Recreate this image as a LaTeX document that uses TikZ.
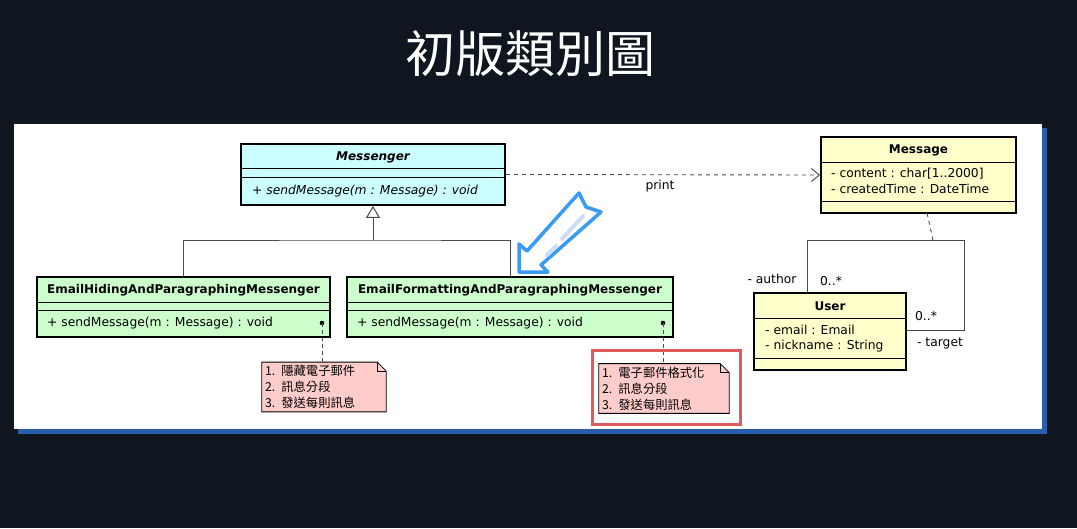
\documentclass[tikz,border=0pt]{standalone}
\usepackage{fontspec}
\setmainfont{DejaVu Sans}
\newfontfamily\cjk{Noto Sans CJK TC}
\usetikzlibrary{arrows.meta}
\definecolor{bgdark}{HTML}{0F1620}
\definecolor{shadowblue}{HTML}{2B5DAD}
\definecolor{cyanfill}{HTML}{CCFFFF}
\definecolor{greenfill}{HTML}{CCFFCC}
\definecolor{yellowfill}{HTML}{FFFFCC}
\definecolor{pinkfill}{HTML}{FFCCCC}
\definecolor{framered}{HTML}{DF5A5C}
\definecolor{arrowblue}{HTML}{3A9BF4}
\definecolor{arrowlight}{HTML}{CCDDF8}
\definecolor{linegray}{HTML}{4A4A4A}
\pgfdeclarelayer{panel}
\pgfdeclarelayer{notebg}
\pgfsetlayers{panel,notebg,main}
\begin{document}
\begin{tikzpicture}[x=1pt,y=-1pt,
  classbox/.style={draw=black, line width=1.8pt, inner sep=0pt},
  sepline/.style={draw=black, line width=0.8pt},
  cname/.style={inner sep=0pt, font=\fontsize{12}{14}\selectfont\bfseries},
  member/.style={inner sep=0pt, anchor=west, font=\fontsize{12.3}{14}\selectfont},
  lbl/.style={inner sep=0pt, font=\fontsize{12.3}{14}\selectfont},
  assoc/.style={draw=linegray, line width=1pt},
  deplink/.style={draw=linegray, line width=0.9pt, dash pattern=on 4pt off 4pt},
  notelink/.style={draw=linegray, line width=0.9pt, dash pattern=on 4pt off 3pt},
  notetext/.style={inner sep=3pt, text width=118pt, align=left, font=\cjk\fontsize{12.3}{16}\selectfont},
  noteshape/.style={draw=black, line width=0.8pt, fill=pinkfill},
]
\useasboundingbox (0,0) rectangle (1077,528);
\begin{pgfonlayer}{panel}
\fill[bgdark] (0,0) rectangle (1077,528);
\fill[shadowblue] (18,128) rectangle (1047,434);
\fill[white] (14,124) rectangle (1042,429);
\end{pgfonlayer}

\node[text=white, font=\cjk\fontsize{50}{52}\selectfont] (title) at (530,54) {初版類別圖};

% Messenger
\node[classbox, fill=cyanfill, minimum width=264pt, minimum height=61pt] (msgr) at (373,174.5) {};
\draw[sepline] (241,168) -- (505,168);
\draw[sepline] (241,177) -- (505,177);
\node[cname, font=\fontsize{12}{14}\selectfont\bfseries\itshape] (msgrname) at (373,157) {Messenger};
\node[member, font=\fontsize{12.3}{14}\selectfont\itshape] (msgrop) at (252,191) {+ sendMessage(m : Message) : void};

% EmailHiding
\node[classbox, fill=greenfill, minimum width=293pt, minimum height=60pt] (ehm) at (183.5,307) {};
\draw[sepline] (37,302) -- (330,302);
\draw[sepline] (37,310) -- (330,310);
\node[cname] (ehmname) at (183.5,290) {EmailHidingAndParagraphingMessenger};
\node[member] (ehmop) at (47,323) {+ sendMessage(m : Message) : void};

% EmailFormatting
\node[classbox, fill=greenfill, minimum width=326pt, minimum height=60pt] (efm) at (510,307) {};
\draw[sepline] (347,302) -- (673,302);
\draw[sepline] (347,310) -- (673,310);
\node[cname] (efmname) at (510,290) {EmailFormattingAndParagraphingMessenger};
\node[member] (efmop) at (357,323) {+ sendMessage(m : Message) : void};

% Message
\node[classbox, fill=yellowfill, minimum width=195pt, minimum height=76pt] (msg) at (918.5,175) {};
\draw[sepline] (821,162) -- (1016,162);
\draw[sepline] (821,201) -- (1016,201);
\node[cname] (msgname) at (918.5,150) {Message};
\node[member] (msga1) at (831,174) {- content : char[1..2000]};
\node[member] (msga2) at (831,189) {- createdTime : DateTime};

% User
\node[classbox, fill=yellowfill, minimum width=152pt, minimum height=77pt] (user) at (830,331.5) {};
\draw[sepline] (754,318) -- (906,318);
\draw[sepline] (754,358) -- (906,358);
\node[cname] (username) at (830,306) {User};
\node[member] (usera1) at (765,330) {- email : Email};
\node[member] (usera2) at (765,346) {- nickname : String};

% Generalization
\coordinate (genjoin) at (373,240);
\draw[assoc] (ehm.north) |- (genjoin) -| (efm.north);
\draw[assoc, -{Triangle[open, width=14pt, length=12pt]}] (genjoin) -- (msgr.south);

% Dependency print
\draw[deplink, -{Straight Barb[length=8pt, width=13pt]}] (msgr.east) -- (msg.west);
\node[lbl] (printlbl) at (660,186) {print};

% Association loop
\coordinate (lp1) at (807,240);
\coordinate (lp2) at (964,240);
\coordinate (lp3) at (964,330);
\draw[assoc] (user.north -| lp1) -- (lp1) -- (lp2) -- (lp3) -- (lp3 -| user.east);
\coordinate (acm) at (927,213);
\coordinate (acl) at (933,240);
\draw[deplink] (acm) -- (acl);
\node[lbl] (authorlbl) at (772,279) {- author};
\node[lbl] (mult1) at (831,281) {0..*};
\node[lbl] (mult2) at (926,316) {0..*};
\node[lbl] (targetlbl) at (940,343) {- target};

% Notes
\node[notetext] (n1) at (324,387) {1. 隱藏電子郵件\\2. 訊息分段\\3. 發送每則訊息};
\node[notetext, text width=124pt] (n2) at (664,388.5) {1. 電子郵件格式化\\2. 訊息分段\\3. 發送每則訊息};
\begin{pgfonlayer}{notebg}
\foreach \n in {n1,n2}{
  \draw[noteshape] (\n.north west) -- ([xshift=-9pt]\n.north east) -- ([yshift=-9pt]\n.north east) -- (\n.south east) -- (\n.south west) -- cycle;
  \draw[draw=black, line width=0.8pt] ([xshift=-9pt]\n.north east) -- ([xshift=-9pt,yshift=-9pt]\n.north east) -- ([yshift=-9pt]\n.north east);
}
\end{pgfonlayer}

\coordinate (d1) at (322,323);
\coordinate (d2) at (663,323);
\fill (d1) circle (2.3);
\fill (d2) circle (2.3);
\draw[notelink] (d1) -- (d1 |- n1.north);
\draw[notelink] (d2) -- (d2 |- n2.north);

% Red highlight frame
\draw[framered, line width=3pt] (592,350) rectangle (740,424);

% Blue hand-drawn arrow
\draw[arrowblue, line width=3.5pt, line join=round, fill=white]
  (519,272) -- (519,244) -- (527,251) -- (579,193) -- (586,207) -- (601,212) -- (541,265) -- (548,272) -- cycle;
\draw[arrowlight, line width=4pt, line cap=round] (583,216) -- (562,239);
\draw[arrowlight, line width=4pt, line cap=round] (556,246) -- (547,255);
\end{tikzpicture}
\end{document}
